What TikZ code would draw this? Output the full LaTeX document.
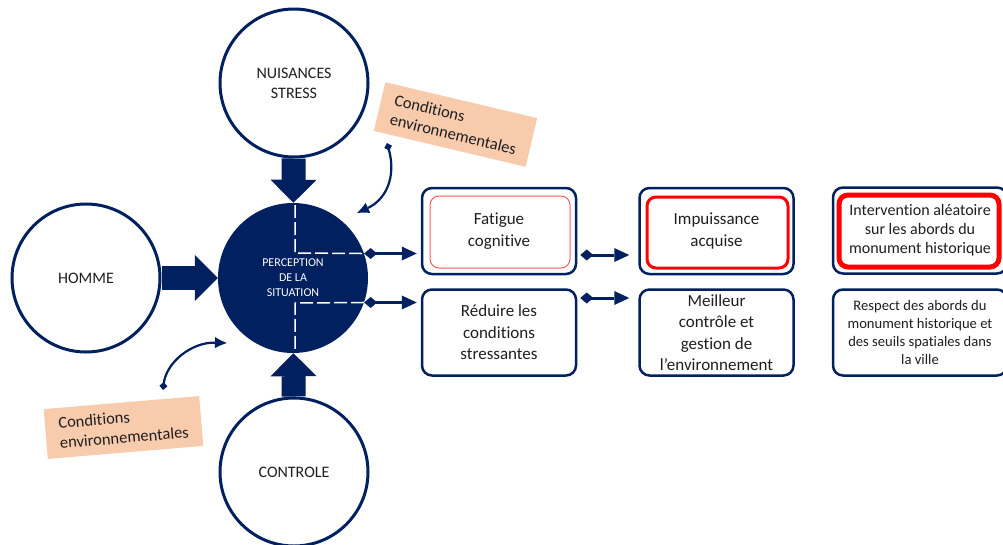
\documentclass[tikz,border=0pt]{standalone}
\usepackage{fontspec}
\setmainfont{Carlito}[Ligatures={NoCommon}]
\usetikzlibrary{arrows.meta,calc}
\definecolor{navy}{HTML}{002060}
\definecolor{peach}{HTML}{F8CBAD}
\definecolor{txt}{HTML}{1F1F1F}
\definecolor{lightred}{HTML}{FF5B5B}
\begin{document}
\begin{tikzpicture}[x=1pt,y=-1pt,
  ring/.style={circle,draw=navy,line width=3pt,fill=white,minimum size=148pt,inner sep=0pt,text=txt,align=center,font=\fontsize{16}{20}\selectfont},
  core/.style={circle,fill=navy,minimum size=150pt,inner sep=0pt,text=white,align=center,font=\fontsize{12}{15}\selectfont},
  blockarrow/.style={draw=navy,line width=24pt,-{Triangle[length=23pt,width=46pt,line width=0pt]}},
  outerbox/.style={draw=navy,line width=2.5pt,rounded corners=10pt,fill=white,minimum width=154pt,minimum height=86pt,inner sep=1pt,align=center,text=txt,font=\fontsize{17}{21.5}\selectfont},
  dblarrow/.style={draw=navy,line width=3pt,{Diamond[length=13pt,width=11pt,line width=0pt]}-{Triangle[length=15pt,width=14pt,line width=0pt]}},
  curvearrow/.style={draw=navy,line width=2.2pt,{Diamond[length=8pt,width=8pt,line width=0pt]}-{Latex[length=12pt,width=11pt,line width=0pt]}},
  condbox/.style={fill=peach,minimum width=156pt,minimum height=50pt,align=left,text=txt,inner sep=2pt,font=\fontsize{16.5}{20}\selectfont},
  dashline/.style={draw=white,line width=1.5pt,dash pattern=on 13pt off 4pt}
]
\useasboundingbox (0,0) rectangle (1003,544);

% circles
\node[core] (c) at (293,278) {PERCEPTION\\DE LA\\SITUATION};
\node[ring] (top) at (294,83) {NUISANCES\\STRESS};
\node[ring] (left) at (86,278) {HOMME};
\node[ring] (bot) at (294,472) {CONTROLE};

% block arrows
\draw[blockarrow] (top) -- (c);
\draw[blockarrow] (left) -- (c);
\draw[blockarrow] (bot) -- (c);

% dashed lines inside central circle
\draw[dashline] (295,205) -- (295,253) -- (c.19.5);
\draw[dashline] (c.-19.5) -- (295,303) -- (295,351);

% boxes
\node[outerbox] (b1) at (499,231) {Fatigue\\cognitive};
\node[outerbox] (b2) at (716.5,231) {Impuissance\\acquise};
\node[outerbox] (b3) at (499,332.5) {Réduire les\\conditions\\stressantes};
\node[outerbox] (b4) at (716.5,332.5) {Meilleur\\contrôle et\\gestion de\\l’environnement};
\node[outerbox,minimum width=174pt,font=\fontsize{16}{19}\selectfont] (b5) at (920,230.5) {Intervention aléatoire\\sur les abords du\\monument historique};
\node[outerbox,minimum width=174pt,font=\fontsize{14.6}{18}\selectfont] (b6) at (920,332.5) {Respect des abords du\\monument historique et\\des seuils spatiales dans\\la ville};

% inner red frames
\draw[lightred,line width=1pt,rounded corners=9pt] (430,196) rectangle (570,268);
\draw[red,line width=3pt,rounded corners=9pt] (647,197) rectangle (788,268);
\draw[red,line width=5pt,rounded corners=9pt] (839,195) rectangle (999,267);

% double arrows
\draw[dblarrow] (c.19.5) -- ([xshift=-4pt]c.19.5 -| b1.west);
\draw[dblarrow] (c.-19.5) -- ([xshift=-4pt]c.-19.5 -| b3.west);
\draw[dblarrow] ([yshift=-24pt,xshift=3pt]b1.east) -- ([yshift=-24pt,xshift=-9pt]b2.west);
\draw[dblarrow] ([yshift=34.5pt,xshift=3pt]b3.east) -- ([yshift=34.5pt,xshift=-9pt]b4.west);

% conditions boxes
\node[condbox,rotate=-13.3] (cu) at (455.5,124.5) {Conditions\\environnementales};
\node[condbox,rotate=4.8] (cl) at (123.5,427.5) {Conditions\\environnementales};

% curved arrows
\coordinate (cus) at (387,143);
\coordinate (cue) at (357,213);
\coordinate (cls) at (163,390);
\coordinate (cle) at (227,343);
\draw[curvearrow] (cus) .. controls (397,178) and (385,200) .. (cue);
\draw[curvearrow] (cls) .. controls (166,362) and (192,342) .. (cle);
\end{tikzpicture}
\end{document}
